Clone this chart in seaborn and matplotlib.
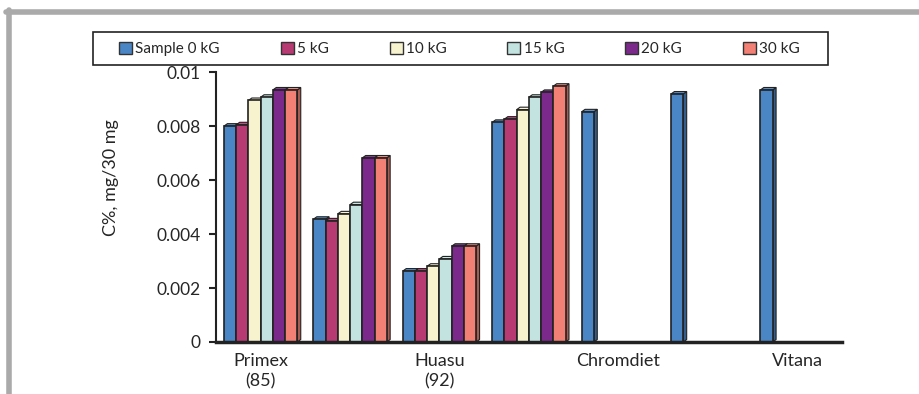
import pandas as pd
import matplotlib.pyplot as plt
import seaborn as sns
from matplotlib.patches import Patch, Polygon, Rectangle
from matplotlib.lines import Line2D
from matplotlib.colors import to_rgb

sns.set_theme(style="white")
plt.rcParams['font.family'] = ['Lato', 'DejaVu Sans']

# values
samples = ['Primex (85)', 'S2', 'Huasu (92)', 'S4', 'Chromdiet', 'S6', 'Vitana']
tick_labels = ['Primex\n(85)', '', 'Huasu\n(92)', '', 'Chromdiet', '', 'Vitana']
fields = ['Sample 0 kG', '5 kG', '10 kG', '15 kG', '20 kG', '30 kG']
kg0 = [0.0080, 0.00455, 0.00263, 0.00814, 0.00853, 0.00919, 0.00934]
kg5 = [0.00805, 0.00449, 0.00263, 0.00826, 0, 0, 0]
kg10 = [0.00895, 0.00475, 0.00281, 0.00861, 0, 0, 0]
kg15 = [0.00907, 0.00509, 0.00308, 0.00907, 0, 0, 0]
kg20 = [0.00934, 0.00682, 0.00355, 0.00925, 0, 0, 0]
kg30 = [0.00934, 0.00682, 0.00355, 0.00948, 0, 0, 0]

colors = ['#4a86c6', '#b83a73', '#f8f3cf', '#c3e3e0', '#7b2a8c', '#f28074']

df = pd.DataFrame({'sample': samples, 'Sample 0 kG': kg0, '5 kG': kg5,
                   '10 kG': kg10, '15 kG': kg15, '20 kG': kg20, '30 kG': kg30})
long = df.melt(id_vars='sample', var_name='field', value_name='value')

fig = plt.figure(figsize=(9.19, 3.94), dpi=100)
ax = fig.add_axes([0.235, 0.132, 0.681, 0.685])

sns.barplot(data=long, x='sample', y='value', hue='field', hue_order=fields,
            palette=colors, saturation=1, width=0.82, edgecolor='#222222',
            linewidth=1.2, legend=False, ax=ax, zorder=2)

# fake 3D faces (top + right side) built from the drawn bars
dx_frac = 0.28
dy = 0.00009
for i, p in enumerate(sorted(ax.patches, key=lambda r: r.get_x())):
    h = p.get_height()
    if h <= 0:
        continue
    x0, w = p.get_x(), p.get_width()
    dx = w * dx_frac
    base = to_rgb(p.get_facecolor())
    side = tuple(c * 0.7 for c in base)
    top = tuple(min(1, c * 0.9 + 0.1) for c in base)
    z = 2 + i * 0.01
    p.set_zorder(z + 0.005)
    ax.add_patch(Polygon([(x0 + w, 0), (x0 + w + dx, dy), (x0 + w + dx, h + dy), (x0 + w, h)],
                         closed=True, facecolor=side, edgecolor='#222222', linewidth=0.8, zorder=z))
    ax.add_patch(Polygon([(x0, h), (x0 + dx, h + dy), (x0 + w + dx, h + dy), (x0 + w, h)],
                         closed=True, facecolor=top, edgecolor='#222222', linewidth=0.8, zorder=z))

ax.set_xlim(-0.5, 6.5)
ax.set_ylim(0, 0.01)
ax.set_yticks([0, 0.002, 0.004, 0.006, 0.008, 0.01])
ax.set_yticklabels(['0', '0.002', '0.004', '0.006', '0.008', '0.01'], fontsize=12.5)
ax.set_xticks(range(len(samples)))
ax.set_xticklabels(tick_labels, fontsize=13, linespacing=1.3)
ax.set_xticks([i - 0.5 for i in range(len(samples) + 1)], minor=True)
ax.tick_params(axis='x', which='major', length=0, pad=8)
ax.tick_params(axis='x', which='minor', length=6, width=1.5, direction='out', color='#222222')
ax.tick_params(axis='y', length=5, width=1.5, direction='out', color='#222222', left=True, pad=6)
ax.set_xlabel('')
ax.set_ylabel('C%, mg/30 mg', fontsize=13)
ax.yaxis.set_label_coords(-0.155, 0.61)

for s in ['top', 'right']:
    ax.spines[s].set_visible(False)
ax.spines['left'].set_color('#222222')
ax.spines['left'].set_linewidth(1.5)
ax.spines['bottom'].set_color('#222222')
ax.spines['bottom'].set_linewidth(2.5)

# legend box
fig.add_artist(Rectangle((93 / 919, 1 - 65 / 394), (828 - 93) / 919, 33 / 394,
                         transform=fig.transFigure, facecolor='white', edgecolor='#222222', linewidth=1.2))
handles = [Patch(facecolor=c, edgecolor='#333333', linewidth=1) for c in colors]
leg = fig.legend(handles, fields, loc='center left', ncol=6, mode='expand',
                 bbox_to_anchor=(119 / 919, 1 - 49 / 394, (800 - 119) / 919, 0),
                 fontsize=11, handlelength=0.85, handleheight=0.85, handletextpad=0.2,
                 borderaxespad=0, borderpad=0, frameon=False)

# grey page frame
fig.add_artist(Line2D([6 / 919, 1], [1 - 12 / 394, 1 - 12 / 394], color='#aaaaaa', linewidth=4, transform=fig.transFigure))
fig.add_artist(Line2D([9 / 919, 9 / 919], [0, 1 - 10 / 394], color='#aaaaaa', linewidth=4, transform=fig.transFigure))

fig.savefig('out.png', dpi=100)
